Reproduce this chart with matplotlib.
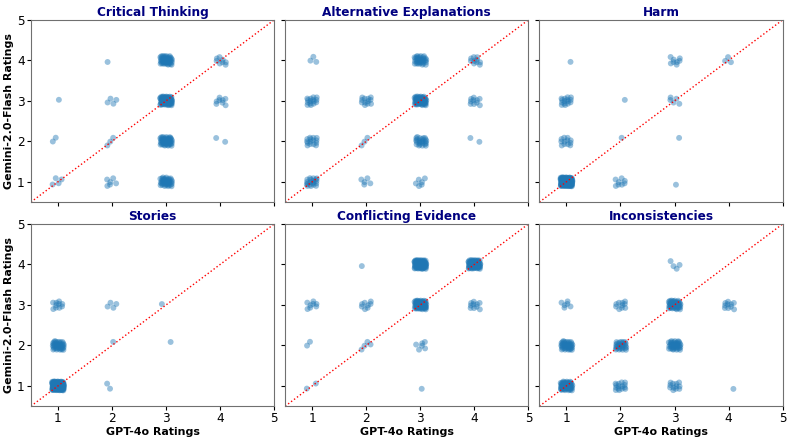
import numpy as np
import matplotlib
matplotlib.use("Agg")
import matplotlib.pyplot as plt

# counts of items per (GPT-4o rating, Gemini rating) cell
titles = ["Critical Thinking", "Alternative Explanations", "Harm",
          "Stories", "Conflicting Evidence", "Inconsistencies"]

critical_thinking = {(1, 1): 4, (1, 2): 2, (1, 3): 1,
                     (2, 1): 6, (2, 2): 3, (2, 3): 4, (2, 4): 1,
                     (3, 1): 40, (3, 2): 50, (3, 3): 80, (3, 4): 50,
                     (4, 2): 2, (4, 3): 8, (4, 4): 8}
alternative_explanations = {(1, 1): 20, (1, 2): 15, (1, 3): 15, (1, 4): 3,
                            (2, 1): 5, (2, 2): 3, (2, 3): 12,
                            (3, 1): 6, (3, 2): 25, (3, 3): 60, (3, 4): 35,
                            (4, 2): 2, (4, 3): 10, (4, 4): 10}
harm = {(1, 1): 150, (1, 2): 12, (1, 3): 15, (1, 4): 1,
        (2, 1): 8, (2, 2): 1, (2, 3): 1,
        (3, 1): 1, (3, 2): 1, (3, 3): 5, (3, 4): 8,
        (4, 4): 3}
stories = {(1, 1): 150, (1, 2): 40, (1, 3): 10,
           (2, 1): 2, (2, 2): 1, (2, 3): 4,
           (3, 2): 1, (3, 3): 1}
conflicting_evidence = {(1, 1): 2, (1, 2): 2, (1, 3): 8,
                        (2, 2): 4, (2, 3): 8, (2, 4): 1,
                        (3, 1): 1, (3, 2): 6, (3, 3): 70, (3, 4): 90,
                        (4, 3): 10, (4, 4): 80}
inconsistencies = {(1, 1): 60, (1, 2): 40, (1, 3): 6,
                   (2, 1): 15, (2, 2): 30, (2, 3): 10,
                   (3, 1): 12, (3, 2): 40, (3, 3): 50, (3, 4): 4,
                   (4, 1): 1, (4, 3): 10}

panels = [critical_thinking, alternative_explanations, harm,
          stories, conflicting_evidence, inconsistencies]

# deterministic jitter (R2 low-discrepancy sequence), purely visual
A1, A2 = 0.7548776662, 0.5698402910
JIT = 0.22


def jittered(cells):
    xs, ys = [], []
    for (gx, gy), n in cells.items():
        i = np.arange(n) + gx * 7 + gy * 3
        u = (0.5 + i * A1) % 1
        v = (0.5 + i * A2) % 1
        xs.extend(gx + (u - 0.5) * JIT)
        ys.extend(gy + (v - 0.5) * JIT)
    return np.array(xs), np.array(ys)


fig, axes = plt.subplots(2, 3, figsize=(7.93, 4.41), dpi=100, sharex=True, sharey=True)
fig.subplots_adjust(left=0.039, right=0.987, top=0.955, bottom=0.079,
                    wspace=0.045, hspace=0.12)

for k, ax in enumerate(axes.flat):
    x, y = jittered(panels[k])
    ax.scatter(x, y, s=18, color="#1f77b4", alpha=0.45, edgecolors="none")
    ax.plot([0.5, 5], [0.5, 5], color="red", linestyle=":", linewidth=1)
    ax.set_xlim(0.5, 5)
    ax.set_ylim(0.5, 5)
    ax.set_xticks([1, 2, 3, 4, 5])
    ax.set_yticks([1, 2, 3, 4, 5])
    ax.tick_params(labelsize=8.7, pad=1.5, length=3)
    ax.set_title(titles[k], fontsize=8.7, fontweight="bold", color="navy", pad=3)
    for sp in ax.spines.values():
        sp.set_color("#707070")
    if k >= 3:
        ax.set_xlabel("GPT-4o Ratings", fontsize=7.9, fontweight="bold", labelpad=1)
    if k % 3 == 0:
        ax.set_ylabel("Gemini-2.0-Flash Ratings", fontsize=7.9, fontweight="bold", labelpad=2)

fig.savefig("out.png", dpi=100)
